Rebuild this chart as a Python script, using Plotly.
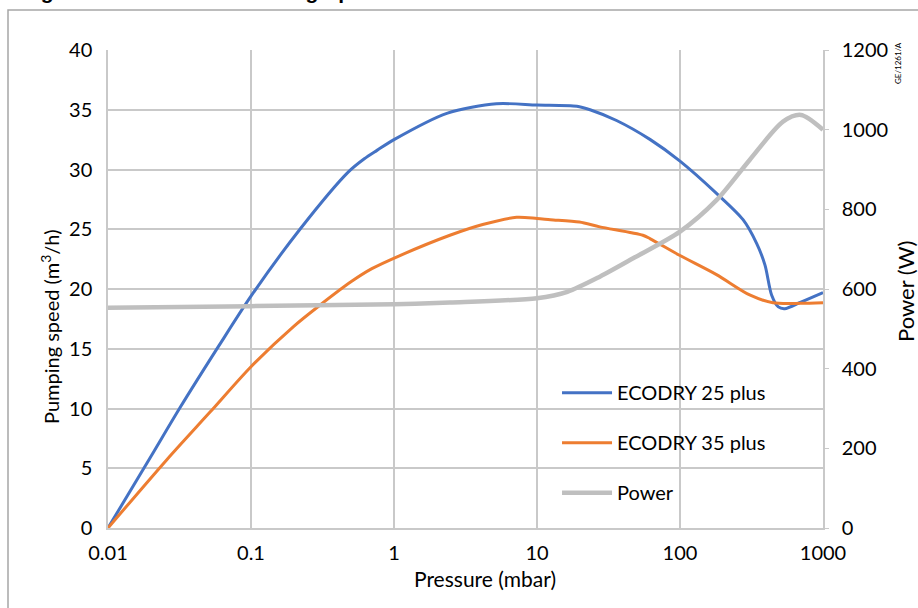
import plotly.graph_objects as go

# ---- data ----
p25 = [0.01, 0.02, 0.032, 0.06, 0.1, 0.22, 0.48, 0.62, 0.76, 1, 2.34, 5.2, 10, 19, 23.5, 36, 62, 100, 180, 276, 344, 393, 437, 487, 540, 700, 1000]
s25 = [0, 6.0, 10.1, 15.3, 19.4, 25.0, 29.8, 30.9, 31.6, 32.5, 34.7, 35.5, 35.4, 35.3, 35.0, 34.1, 32.5, 30.7, 28.0, 25.8, 23.8, 22.0, 19.5, 18.5, 18.35, 18.9, 19.7]

p35 = [0.01, 0.0257, 0.0517, 0.1, 0.2, 0.3, 0.5, 0.7, 1.1, 2.46, 4.17, 7.2, 10, 12.4, 19.8, 27.5, 55, 62, 100, 180, 307, 447, 700, 1000]
s35 = [0, 5.7, 9.7, 13.5, 16.9, 18.6, 20.6, 21.7, 22.8, 24.5, 25.4, 26.0, 25.9, 25.8, 25.6, 25.2, 24.5, 24.2, 22.8, 21.2, 19.5, 18.85, 18.8, 18.85]

p_pow = [0.01, 0.1, 1, 2.46, 10, 16.3, 27.5, 47, 100, 180, 307, 525, 700, 1000]
w_pow = [553, 557, 562, 566, 577, 593, 631, 677, 744, 823, 924, 1020, 1037, 1000]

x_ticks = [0.01, 0.1, 1, 10, 100, 1000]
x_ticklabels = ["0.01", "0.1", "1", "10", "100", "1000"]

FONT = "Lato"
GRID = "#c9c9c9"
CLEAR = "rgba(0,0,0,0)"

fig = go.Figure()
fig.add_trace(go.Scatter(x=p25, y=s25, name="ECODRY 25 plus", mode="lines",
                         line=dict(color="#4472C4", width=3, shape="spline", smoothing=0.8),
                         legendgroup="a"))
fig.add_trace(go.Scatter(x=p35, y=s35, name="ECODRY 35 plus", mode="lines",
                         line=dict(color="#ED7D31", width=3, shape="spline", smoothing=0.8),
                         legendgroup="b"))
fig.add_trace(go.Scatter(x=p_pow, y=w_pow, name="Power", mode="lines", yaxis="y2",
                         line=dict(color="#BFBFBF", width=4.5, shape="spline", smoothing=0.8),
                         legendgroup="c"))

fig.update_layout(
    width=918, height=608,
    margin=dict(l=108, r=95, t=50, b=80),
    paper_bgcolor="white", plot_bgcolor="white",
    font=dict(family=FONT, size=20, color="black"),
    xaxis=dict(type="log", range=[-2, 3], tickvals=x_ticks, ticktext=x_ticklabels,
               showgrid=True, gridcolor=GRID, gridwidth=1.5,
               showline=True, linecolor=GRID, linewidth=1.5,
               ticks="outside", ticklen=3, tickcolor=CLEAR, ticklabelstandoff=3,
               zeroline=False, automargin=False),
    yaxis=dict(range=[0, 40], dtick=5, showgrid=True, gridcolor=GRID, gridwidth=1.5,
               showline=True, linecolor=GRID, linewidth=1.5,
               ticks="outside", ticklen=6, tickcolor=CLEAR, ticklabelstandoff=4,
               zeroline=False, automargin=False),
    yaxis2=dict(range=[0, 1200], dtick=200, overlaying="y", side="right", showgrid=False,
                showline=True, linecolor=GRID, linewidth=1.5, ticks="outside", ticklen=4,
                tickcolor=GRID, ticklabelstandoff=9, zeroline=False, automargin=False),
    legend=dict(x=0.628, y=0.324, xanchor="left", yanchor="top", bgcolor=CLEAR,
                font=dict(size=20), tracegroupgap=21, itemwidth=50),
    showlegend=True,
)

# axis titles
fig.add_annotation(text="Pressure (mbar)", xref="paper", yref="paper",
                   x=(485 - 108) / 715, y=(528 - 578) / 478, xanchor="center", yanchor="middle",
                   showarrow=False, font=dict(size=21))
fig.add_annotation(text="Pumping speed (m<sup>3</sup>/h)", xref="paper", yref="paper",
                   x=(50 - 108) / 715, y=(528 - 327) / 478, xanchor="center", yanchor="middle",
                   textangle=-90, showarrow=False, font=dict(size=20))
fig.add_annotation(text="Power (W)", xref="paper", yref="paper",
                   x=(905 - 108) / 715, y=(528 - 292) / 478, xanchor="center", yanchor="middle",
                   textangle=-90, showarrow=False, font=dict(size=22))

# outer frame of the figure
fig.add_shape(type="rect", xref="paper", yref="paper",
              x0=(8 - 108) / 715, x1=1.3, y0=-0.3, y1=(528 - 10) / 478,
              line=dict(color="#a6a6a6", width=1.5), fillcolor=CLEAR, layer="below")

# cut-off title at the top
fig.add_annotation(text="<b>Figure 5 Performance curve graph</b>", xref="paper", yref="paper",
                   x=(20 - 108) / 715, y=(528 - 5) / 478, xanchor="left", yanchor="bottom",
                   showarrow=False, font=dict(family="Liberation Sans", size=21, color="black"))
# drawing reference
fig.add_annotation(text="GE/1261/A", xref="paper", yref="paper",
                   x=(898 - 108) / 715, y=(528 - 63) / 478, textangle=-90,
                   xanchor="center", yanchor="middle",
                   showarrow=False, font=dict(family=FONT, size=8, color="black"))

fig.write_html("out.html", config={"displayModeBar": False},
               post_script="document.body.style.margin='0';")
